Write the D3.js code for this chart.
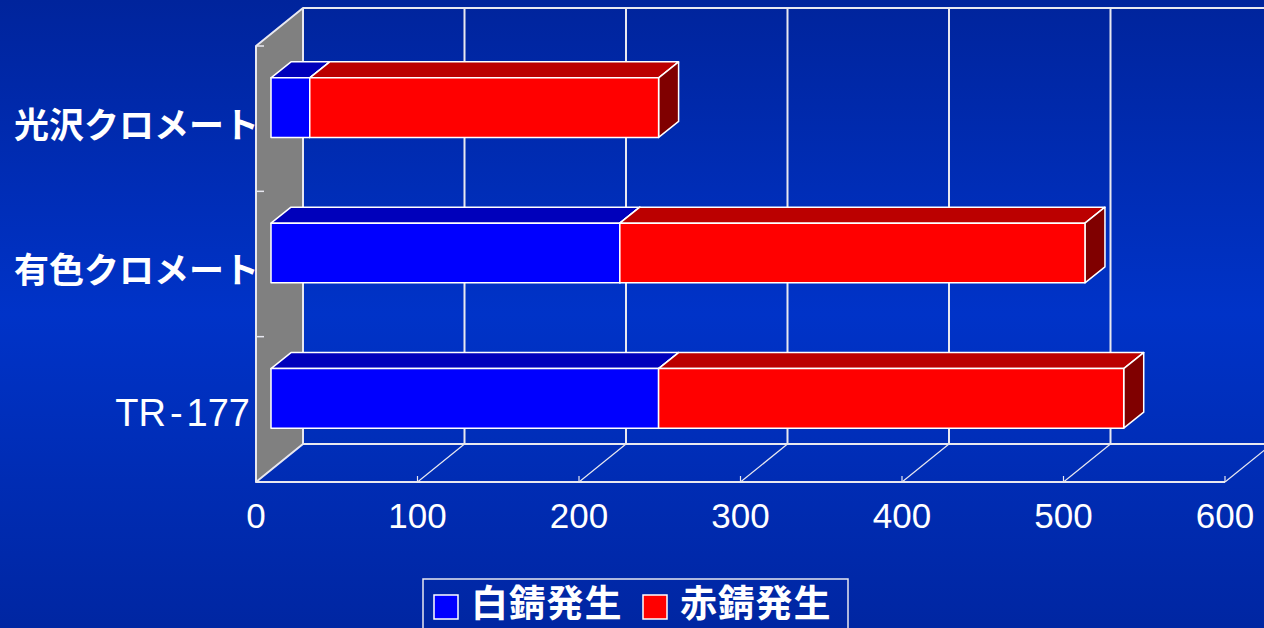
<!DOCTYPE html>
<html>
<head>
<meta charset="utf-8">
<script src="https://cdn.jsdelivr.net/npm/d3@7"></script>
<style>
  html, body { margin: 0; padding: 0; background: #0028a8; overflow: hidden; }
  svg { display: block; }
  .cat-jp { font-family: "Noto Sans CJK JP", sans-serif; font-weight: bold; fill: #fff; }
  .num { font-family: "Liberation Sans", Arial, sans-serif; fill: #fff; }
</style>
</head>
<body>
<div id="chart"></div>
<script>
// data
var categories = ["光沢クロメート", "有色クロメート", "TR-177"];
var whiteRust = [24, 216, 240];   // 白錆発生
var redRust = [216, 288, 288];    // 赤錆発生 (added on top of white)
var seriesNames = ["白錆発生", "赤錆発生"];
var seriesKeys = ["white", "red"];
var xTicks = [0, 100, 200, 300, 400, 500, 600];

var W = 1264, H = 628;

// 3d geometry
var depth = { dx: 47, dy: -38 };       // back wall offset
var barFront = { dx: 15, dy: -11 };    // bar front face offset
var barBack = { dx: 35, dy: -27 };     // bar back face offset

var faces = {
    white: { front: "#0000ff", top: "#0000bb", side: "#000080" },
    red:   { front: "#ff0000", top: "#bb0000", side: "#800000" }
};

var svg = d3.select("#chart").append("svg")
    .attr("width", W)
    .attr("height", H);

var defs = svg.append("defs");
var grad = defs.append("linearGradient")
    .attr("id", "bg")
    .attr("x1", 0).attr("y1", 0).attr("x2", 0).attr("y2", 1);
grad.append("stop").attr("offset", "0%").attr("stop-color", "#00249c");
grad.append("stop").attr("offset", "50%").attr("stop-color", "#0033c8");
grad.append("stop").attr("offset", "100%").attr("stop-color", "#0026a2");

svg.append("rect")
    .attr("width", W).attr("height", H)
    .attr("fill", "url(#bg)");

var x = d3.scaleLinear().domain([0, 600]).range([256, 1225]);
var y = d3.scaleBand().domain(categories).range([46, 482]).padding(0);

var y0 = y.range()[0], y1 = y.range()[1];
var gridColor = "#e8e8f0";

// back wall: top edge + vertical gridlines
svg.append("line")
    .attr("x1", x(0) + depth.dx).attr("x2", x(600) + depth.dx)
    .attr("y1", y0 + depth.dy).attr("y2", y0 + depth.dy)
    .attr("stroke", gridColor).attr("stroke-width", 2);

svg.selectAll(".vgrid")
    .data(xTicks.slice(1))
    .enter().append("line")
    .attr("class", "vgrid")
    .attr("x1", function(d) { return x(d) + depth.dx; })
    .attr("x2", function(d) { return x(d) + depth.dx; })
    .attr("y1", y0 + depth.dy)
    .attr("y2", y1 + depth.dy)
    .attr("stroke", gridColor).attr("stroke-width", 2);

// floor
svg.append("line")
    .attr("x1", x(0) + depth.dx).attr("x2", x(600) + depth.dx)
    .attr("y1", y1 + depth.dy).attr("y2", y1 + depth.dy)
    .attr("stroke", gridColor).attr("stroke-width", 2);

svg.append("line")
    .attr("x1", x(0)).attr("x2", x(600))
    .attr("y1", y1).attr("y2", y1)
    .attr("stroke", gridColor).attr("stroke-width", 2);

svg.selectAll(".floorline")
    .data(xTicks.slice(1))
    .enter().append("line")
    .attr("class", "floorline")
    .attr("x1", function(d) { return x(d) + depth.dx; })
    .attr("y1", y1 + depth.dy)
    .attr("x2", function(d) { return x(d); })
    .attr("y2", y1)
    .attr("stroke", gridColor).attr("stroke-width", 1.2);

svg.selectAll(".xtick")
    .data(xTicks.slice(1))
    .enter().append("line")
    .attr("class", "xtick")
    .attr("x1", function(d) { return x(d); })
    .attr("x2", function(d) { return x(d); })
    .attr("y1", y1 - 6).attr("y2", y1)
    .attr("stroke", gridColor).attr("stroke-width", 1.2);

// left (grey) wall
var wall = [
    [x(0), y0], [x(0) + depth.dx, y0 + depth.dy],
    [x(0) + depth.dx, y1 + depth.dy], [x(0), y1]
];
svg.append("path")
    .attr("d", d3.line()(wall) + "Z")
    .attr("fill", "#808080")
    .attr("stroke", gridColor).attr("stroke-width", 2)
    .attr("stroke-linejoin", "round");

// category ticks on the wall edge
var bounds = categories.map(function(c) { return y(c); }).concat([y1]);
svg.selectAll(".ytick")
    .data(bounds)
    .enter().append("line")
    .attr("class", "ytick")
    .attr("x1", x(0)).attr("x2", x(0) + 8)
    .attr("y1", function(d) { return d; })
    .attr("y2", function(d) { return d; })
    .attr("stroke", gridColor).attr("stroke-width", 1.5);

// bars
var table = categories.map(function(c, i) {
    return { cat: c, white: whiteRust[i], red: redRust[i] };
});
var stacked = d3.stack().keys(seriesKeys)(table);

var barH = y.bandwidth() * 0.41;

function poly(pts) { return d3.line()(pts) + "Z"; }

var barG = svg.append("g");
stacked.forEach(function(layer) {
    var col = faces[layer.key];
    layer.forEach(function(seg) {
        var cat = seg.data.cat;
        var cy = y(cat) + y.bandwidth() / 2;
        var top = cy - barH / 2, bot = cy + barH / 2;
        var xa = x(seg[0]), xb = x(seg[1]);
        var g = barG.append("g")
            .attr("stroke", "#fff")
            .attr("stroke-width", 1.5)
            .attr("stroke-linejoin", "round");
        // top face
        g.append("path").attr("fill", col.top).attr("d", poly([
            [xa + barFront.dx, top + barFront.dy],
            [xb + barFront.dx, top + barFront.dy],
            [xb + barBack.dx, top + barBack.dy],
            [xa + barBack.dx, top + barBack.dy]
        ]));
        // right face
        g.append("path").attr("fill", col.side).attr("d", poly([
            [xb + barFront.dx, top + barFront.dy],
            [xb + barBack.dx, top + barBack.dy],
            [xb + barBack.dx, bot + barBack.dy],
            [xb + barFront.dx, bot + barFront.dy]
        ]));
        // front face
        g.append("rect")
            .attr("fill", col.front)
            .attr("x", xa + barFront.dx)
            .attr("y", top + barFront.dy)
            .attr("width", xb - xa)
            .attr("height", barH);
    });
});

// category labels
function isLatin(d) { return /^[A-Z]/.test(d); }
var catLab = svg.selectAll(".cat")
    .data(categories)
    .enter().append("text")
    .attr("class", function(d) { return isLatin(d) ? "num" : "cat-jp"; })
    .attr("x", function(d) { return isLatin(d) ? 250 : 259; })
    .attr("y", function(d) { return y(d) + y.bandwidth() / 2 + 3.5; })
    .attr("text-anchor", "end")
    .attr("dominant-baseline", "central")
    .attr("font-size", function(d) { return isLatin(d) ? 38 : 35; });

// latin label: a little air round the hyphen, as in the original
catLab.each(function(d) {
    var t = d3.select(this);
    if (isLatin(d) && d.indexOf("-") > 0) {
        var parts = d.split("-");
        t.append("tspan").text(parts[0]);
        t.append("tspan").attr("dx", 4).text("-");
        t.append("tspan").attr("dx", 4).text(parts[1]);
    } else {
        t.text(d);
    }
});

// x tick labels
svg.selectAll(".xlab")
    .data(xTicks)
    .enter().append("text")
    .attr("class", "num")
    .attr("x", function(d) { return x(d); })
    .attr("y", 528)
    .attr("text-anchor", "middle")
    .attr("font-size", 35)
    .text(function(d) { return d; });

// legend
var leg = svg.append("g");
leg.append("rect")
    .attr("x", 423).attr("y", 579)
    .attr("width", 425).attr("height", 70)
    .attr("fill", "none")
    .attr("stroke", gridColor).attr("stroke-width", 1.5);

var legX = [434, 643];
seriesKeys.forEach(function(k, i) {
    leg.append("rect")
        .attr("x", legX[i]).attr("y", 595)
        .attr("width", 24).attr("height", 24)
        .attr("fill", faces[k].front)
        .attr("stroke", "#fff").attr("stroke-width", 1.5);
    leg.append("text")
        .attr("class", "cat-jp")
        .attr("x", legX[i] + 37)
        .attr("y", 617)
        .attr("font-size", 37)
        .attr("letter-spacing", 0.8)
        .text(seriesNames[i]);
});
</script>
</body>
</html>
